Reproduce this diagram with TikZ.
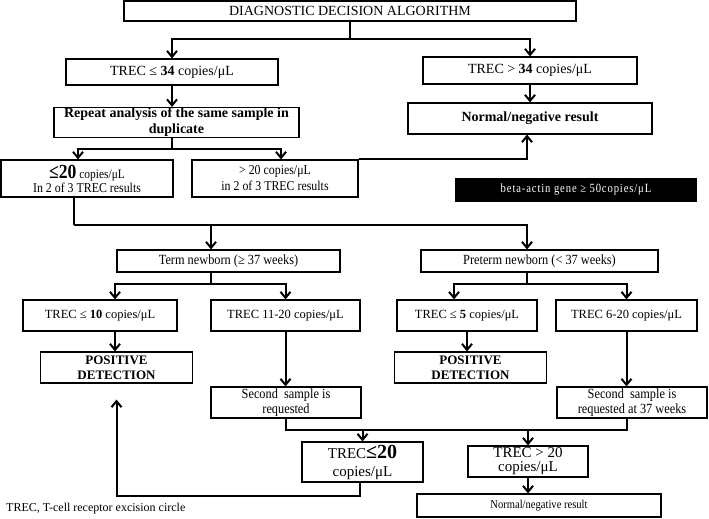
\documentclass[tikz,border=0pt]{standalone}
\usepackage{fontspec}
\setmainfont{Liberation Serif}
\newfontfamily\narrowfont[FakeStretch=0.88]{Liberation Serif}
\newfontfamily\betafont[FakeStretch=0.85,LetterSpace=7]{Liberation Serif}
\usetikzlibrary{arrows.meta}

\begin{document}
\begin{tikzpicture}[x=1pt,y=-1pt,
    box/.style={draw,line width=1.2pt,inner sep=0pt,align=center},
    flow/.style={line width=2pt},
    arr/.style={flow,-{Straight Barb[length=6pt,width=10pt]}}]
    \pgfmathsetmacro{\rowheight}{31}
    \pgfmathsetmacro{\smallwidth}{152}
    \pgfmathsetmacro{\widewidth}{244}
    \providecommand{\headsize}{\fontsize{14}{16}\selectfont}
    \providecommand{\bodysize}{\fontsize{12.5}{14}\selectfont}
    \providecommand{\narrowsize}{\narrowfont\fontsize{14}{15}\selectfont}
    \providecommand{\resultsize}{\narrowfont\fontsize{13.5}{16}\selectfont}
    \providecommand{\bignum}{\fontsize{20}{20}\selectfont\bfseries}
    \useasboundingbox (0,0) rectangle (709,519);
    % top part
    \node[box,minimum width=452,minimum height=20,font=\headsize] (title) at (350,11) {DIAGNOSTIC DECISION ALGORITHM};
    \node[box,minimum width=212,minimum height=26,font=\headsize] (low34) at (172,72) {TREC ≤ \textbf{34} copies/μL};
    \node[box,minimum width=214,minimum height=27,font=\headsize] (high34) at (530,70.5) {TREC > \textbf{34} copies/μL};
    \node[box,minimum width=245,minimum height=30,font=\headsize\bfseries] (repeat) at (176.5,122.5) {Repeat analysis of the same sample in\\duplicate};
    \node[box,minimum width=\widewidth,minimum height=\rowheight,font=\headsize\bfseries] (normal) at (530,118.5) {Normal/negative result};
    \node[box,minimum width=172,minimum height=37,font=\resultsize] (le20) at (87,178.5) {{\bignum ≤20} {\fontsize{13}{13}\selectfont copies/μL}\\[-2pt]In 2 of 3 TREC results};
    \node[box,minimum width=166,minimum height=37,font=\resultsize] (gt20) at (275,178.5) {> 20 copies/μL\\in 2 of 3 TREC results};
    \node[fill=black,text=white,minimum width=242,minimum height=24,font=\betafont\fontsize{12.5}{12.5}\selectfont] (beta) at (576,190) {beta-actin gene ≥ 50copies/μL};
    % newborn part
    \node[box,minimum width=223,minimum height=22,font=\narrowsize] (term) at (228.5,261) {Term newborn (≥ 37 weeks)};
    \node[box,minimum width=237,minimum height=22,font=\narrowsize] (preterm) at (539.5,261) {Preterm newborn (< 37 weeks)};
    \node[box,minimum width=154,minimum height=\rowheight,font=\bodysize] (t10) at (100,315.5) {TREC ≤ \textbf{10} copies/μL};
    \node[box,minimum width=149,minimum height=\rowheight,font=\bodysize] (t1120) at (285.5,315.5) {TREC 11-20 copies/μL};
    \node[box,minimum width=140,minimum height=\rowheight,font=\bodysize] (t5) at (467,315.5) {TREC ≤ \textbf{5} copies/μL};
    \node[box,minimum width=141,minimum height=\rowheight,font=\bodysize] (t620) at (626.5,315.5) {TREC 6-20 copies/μL};
    \node[box,minimum width=\smallwidth,minimum height=\rowheight,font=\fontsize{13}{15}\selectfont\bfseries] (pos1) at (116.5,367.5) {POSITIVE\\DETECTION};
    \node[box,minimum width=\smallwidth,minimum height=\rowheight,font=\fontsize{13}{15}\selectfont\bfseries] (pos2) at (470.5,367.5) {POSITIVE\\DETECTION};
    \node[box,minimum width=150,minimum height=\rowheight,font=\narrowsize] (second1) at (286,402.5) {Second~ sample is\\requested};
    \node[box,minimum width=150,minimum height=\rowheight,font=\narrowsize] (second2) at (632,402.5) {Second~ sample is\\requested at 37 weeks};
    \node[box,minimum width=121,minimum height=40,font=\fontsize{15}{18}\selectfont] (le20b) at (362.5,462) {TREC{\bignum ≤20}\\copies/μL};
    \node[box,minimum width=120,minimum height=\rowheight,font=\fontsize{15}{14}\selectfont] (gt20b) at (528,461.5) {TREC > 20\\copies/μL};
    \node[box,minimum width=\widewidth,minimum height=23,font=\narrowfont\fontsize{12}{12}\selectfont] (normalb) at (539,505.5) {Normal/negative result};
    \node[anchor=west,inner sep=0pt,font=\fontsize{12}{12}\selectfont] (note) at (6,509) {TREC, T-cell receptor excision circle};
    % connectors
    \path (title.south) ++(0,17) coordinate (joinA);
    \draw[flow] (title.south) -- (joinA);
    \draw[arr] (joinA) -| (low34.north);
    \draw[arr] (joinA) -| (high34.north);
    \draw[arr] (low34.south) -- (low34.south |- repeat.north);
    \draw[arr] (high34.south) -- (high34.south |- normal.north);
    \path (low34.south |- repeat.south) ++(0,11) coordinate (joinB);
    \draw[flow] (low34.south |- repeat.south) -- (joinB);
    \draw[arr] (joinB) -| ([xshift=-9]le20.north);
    \draw[arr] (joinB) -| ([xshift=6]gt20.north);
    \draw[arr] (gt20.north east) -| ([xshift=-3]normal.south);
    \path ([xshift=-13]le20.south) ++(0,27) coordinate (joinC);
    \draw[flow] ([xshift=-13]le20.south) -- (joinC);
    \draw[arr] (joinC) -| ([xshift=-17.5]term.north);
    \draw[arr] (joinC) -| ([xshift=-12.5]preterm.north);
    \path ([xshift=-17.5]term.south) ++(0,11) coordinate (joinD);
    \draw[flow] ([xshift=-17.5]term.south) -- (joinD);
    \draw[arr] (joinD) -| ([xshift=15]t10.north);
    \draw[arr] (joinD) -| (t1120.north);
    \path ([xshift=-12.5]preterm.south) ++(0,11) coordinate (joinE);
    \draw[flow] ([xshift=-12.5]preterm.south) -- (joinE);
    \draw[arr] (joinE) -| ([xshift=-13]t5.north);
    \draw[arr] (joinE) -| (t620.north);
    \draw[arr] ([xshift=15]t10.south) -- ([xshift=15]t10.south |- pos1.north);
    \draw[arr] (t5.south) -- (t5.south |- pos2.north);
    \draw[arr] (t1120.south) -- (t1120.south |- second1.north);
    \draw[arr] (t620.south) -- (t620.south |- second2.north);
    \path (second1.south) ++(0,11) coordinate (joinF);
    \draw[flow] (second1.south) -- (joinF) -| (t620.south |- second2.south);
    \draw[arr] (joinF -| le20b.north) -- (le20b.north);
    \draw[arr] (joinF -| gt20b.north) -- (gt20b.north);
    \draw[arr] (gt20b.south) -- (gt20b.south |- normalb.north);
    \draw[arr,shorten >=16pt] ([xshift=-3]le20b.south) -- ++(0,13) -| (pos1.south);
\end{tikzpicture}
\end{document}
